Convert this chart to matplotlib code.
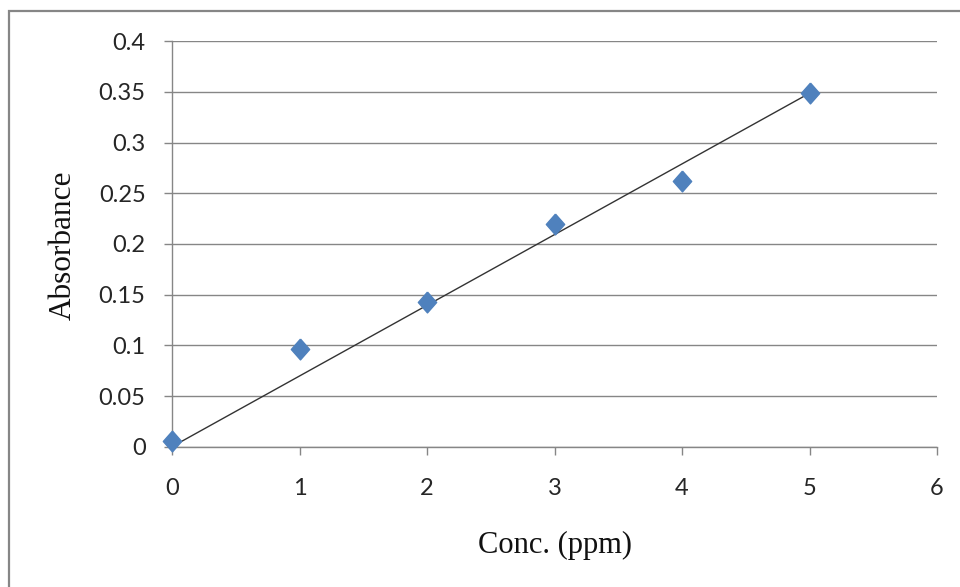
import numpy as np
import matplotlib
matplotlib.use("Agg")
import matplotlib.pyplot as plt
from matplotlib.patches import Rectangle

conc = [0, 1, 2, 3, 4, 5]
absorbance = [0.0056, 0.0962, 0.1425, 0.220, 0.2626, 0.349]
x_ticks = [0, 1, 2, 3, 4, 5, 6]
y_ticks = [0, 0.05, 0.1, 0.15, 0.2, 0.25, 0.3, 0.35, 0.4]
y_tick_labels = ["0", "0.05", "0.1", "0.15", "0.2", "0.25", "0.3", "0.35", "0.4"]

W, H = 960, 587
fig = plt.figure(figsize=(W / 100, H / 100), dpi=100)
ax = fig.add_axes([172 / W, 1 - 446.7 / H, (937 - 172) / W, (446.7 - 41.3) / H])

gray = "#868686"
# outer frame
fig.patches.append(Rectangle((9 / W, -0.2), 1.2, 1 - 11 / H + 0.2, transform=fig.transFigure,
                             fill=False, edgecolor=gray, linewidth=1.6, zorder=0))

# trendline through origin
xa = np.array(conc, dtype=float)
ya = np.array(absorbance)
slope = (xa * ya).sum() / (xa * xa).sum()
xl = np.array([0, 5])
ax.plot(xl, slope * xl, color="#333333", linewidth=1.0, zorder=3)

diamond = [(0, 1), (0.88, 0), (0, -1), (-0.88, 0), (0, 1)]
ax.plot(conc, absorbance, linestyle="none", marker=diamond, markersize=15,
        color="#4F81BD", markeredgecolor="#4F81BD", zorder=4, clip_on=False)

ax.set_xlim(0, 6)
ax.set_ylim(0, 0.4)
ax.set_xticks(x_ticks)
ax.set_xticklabels([str(t) for t in x_ticks])
ax.set_yticks(y_ticks)
ax.set_yticklabels(y_tick_labels)

ax.yaxis.grid(True, color=gray, linewidth=1.0)
ax.set_axisbelow(True)
for s in ["top", "right"]:
    ax.spines[s].set_visible(False)
for s in ["left", "bottom"]:
    ax.spines[s].set_color(gray)
    ax.spines[s].set_linewidth(1.0)

ax.tick_params(axis="both", direction="out", length=6, width=1.0, color=gray,
               labelsize=17, labelcolor="#262626")
ax.tick_params(axis="y", pad=13)
ax.tick_params(axis="x", pad=16.5)
for lab in ax.get_xticklabels() + ax.get_yticklabels():
    lab.set_fontfamily("Lato")

fig.text(554.5 / W, 1 - 545 / H, "Conc. (ppm)", fontsize=22, family="Liberation Serif",
         ha="center", va="center", color="#111111")
fig.text(63 / W, 1 - 245 / H, "Absorbance", fontsize=22.5, family="Liberation Serif",
         ha="center", va="center", rotation=90, color="#111111")

fig.savefig("out.png", dpi=100)
